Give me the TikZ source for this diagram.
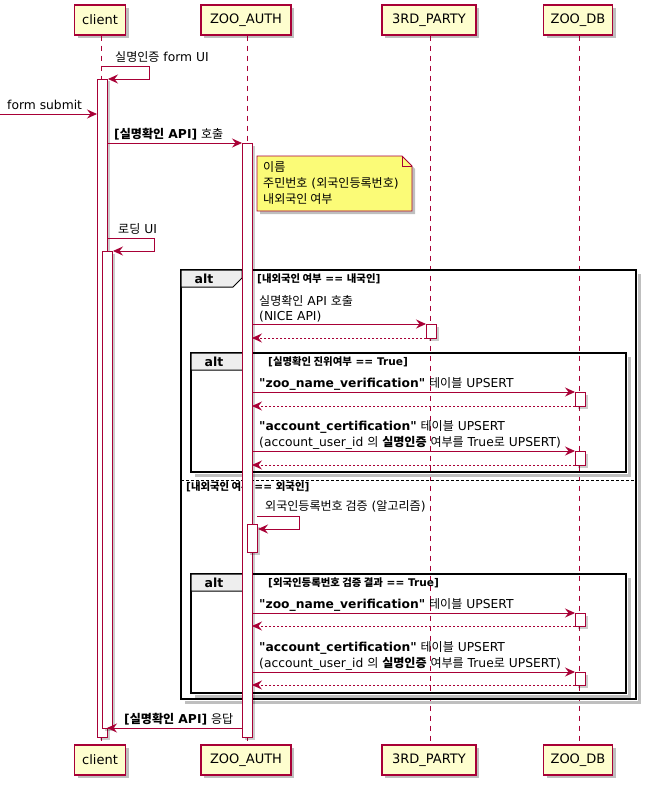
\documentclass[tikz,border=0pt]{standalone}
\usepackage{fontspec}
\setmainfont[Ligatures=TeXOff]{DejaVu Sans}
\newfontfamily\kr[Scale=0.98]{Noto Sans CJK KR}
\usetikzlibrary{arrows.meta,shadows}
\definecolor{pline}{HTML}{A80036}
\definecolor{pfill}{HTML}{FEFECE}
\definecolor{nfill}{HTML}{FBFB77}
\definecolor{tabfill}{HTML}{EEEEEE}
\tikzset{
  part/.style={draw=pline, fill=pfill, line width=1.1pt, minimum height=30pt, inner sep=0pt,
    font=\fontsize{13}{15}\selectfont,
    drop shadow={shadow xshift=3pt, shadow yshift=-3pt, fill=black, opacity=0.25}},
  life/.style={draw=pline, line width=0.8pt, dash pattern=on 5pt off 5pt},
  actbar/.style={draw=pline, fill=white, line width=0.9pt,
    drop shadow={shadow xshift=2.5pt, shadow yshift=-2.5pt, fill=black, opacity=0.2}},
  msg/.style={draw=pline, line width=0.9pt, -{Stealth[length=10pt,width=9pt,inset=3.5pt]}},
  ret/.style={msg, dash pattern=on 2pt off 2pt},
  lbl/.style={anchor=base west, inner sep=0pt, font=\fontsize{12.3}{15}\selectfont},
  cond/.style={anchor=base west, inner sep=0pt, font=\fontsize{10.6}{12}\selectfont\bfseries},
  altframe/.style={draw=black, line width=1.5pt},
  altshadow/.style={draw=black!25, line width=3pt},
  alttab/.style={draw=black, fill=tabfill, line width=1pt},
  alttxt/.style={anchor=base, inner sep=0pt, font=\fontsize{12.5}{15}\selectfont\bfseries},
  notebox/.style={draw=pline, fill=nfill, line width=0.9pt,
    drop shadow={shadow xshift=3pt, shadow yshift=-3pt, fill=black, opacity=0.25}},
}
\begin{document}
\begin{tikzpicture}[x=1pt,y=-1pt]
\useasboundingbox (0,0) rectangle (649,789);
\fill[white] (0,0) rectangle (649,789);

% participants
\node[part, minimum width=51pt] (ct) at (100,20) {client};
\node[part, minimum width=90pt] (at) at (246,20) {ZOO\_AUTH};
\node[part, minimum width=94pt] (tt) at (429,20) {3RD\_PARTY};
\node[part, minimum width=69pt] (dt) at (578,20) {ZOO\_DB};
\node[part, minimum width=51pt] (cb) at (100,760) {client};
\node[part, minimum width=90pt] (ab) at (246,760) {ZOO\_AUTH};
\node[part, minimum width=94pt] (tb) at (429,760) {3RD\_PARTY};
\node[part, minimum width=69pt] (db) at (578,760) {ZOO\_DB};

% lifelines
\draw[life] ([xshift=1pt]ct.south) -- ([xshift=1pt]cb.north);
\draw[life] ([xshift=1pt]at.south) -- ([xshift=1pt]ab.north);
\draw[life] ([xshift=1pt]tt.south) -- ([xshift=1pt]tb.north);
\draw[life] ([xshift=1pt]dt.south) -- ([xshift=1pt]db.north);

% outer alt frame
\draw[altshadow] (639,274) -- (639,702) -- (185,702);
\draw[altframe] (181,270) rectangle (636,699);
\draw[alttab] (181,270) -- (242,270) -- (242,278) -- (233,287) -- (181,287) -- cycle;
\node[alttxt] (alt1) at (204,283) {alt};
\node[cond] (c1) at (257,282) {[{\kr 내외국인 여부} == {\kr 내국인}]};
\draw[black, line width=0.8pt, dash pattern=on 3pt off 2pt] (181,480) -- (636,480);
\node[cond] (c2) at (186,490) {[{\kr 내외국인 여부} == {\kr 외국인}]};

% inner alt 1
\draw[altshadow] (629,357) -- (629,475) -- (195,475);
\draw[altframe] (191,353) rectangle (626,472);
\draw[alttab] (191,353) -- (252,353) -- (252,361) -- (243,370) -- (191,370) -- cycle;
\node[alttxt] (alt2) at (214,366) {alt};
\node[cond] (c3) at (268,365) {[{\kr 실명확인 진위여부} == True]};

% inner alt 2
\draw[altshadow] (629,578) -- (629,696) -- (195,696);
\draw[altframe] (191,574) rectangle (626,693);
\draw[alttab] (191,574) -- (252,574) -- (252,582) -- (243,591) -- (191,591) -- cycle;
\node[alttxt] (alt3) at (214,587) {alt};
\node[cond] (c4) at (268,586) {[{\kr 외국인등록번호 검증 결과} == True]};

% activation bars
\draw[actbar] (97,79) rectangle (107,737);
\draw[actbar] (102,251) rectangle (112,728);
\draw[actbar] (242,143) rectangle (252,737);
\draw[actbar] (247,524) rectangle (257,552);
\draw[actbar] (426,324) rectangle (436,338);
\draw[actbar] (575,392) rectangle (585,406);
\draw[actbar] (575,451) rectangle (585,465);
\draw[actbar] (575,613) rectangle (585,626);
\draw[actbar] (575,672) rectangle (585,685);

% messages
\node[lbl] (m1) at (115,62) {{\kr 실명인증} form UI};
\draw[msg] (101,66) -- (149,66) -- (149,79) -- (108,79);

\coordinate (src) at (0,114);
\node[lbl] (m2) at (7,110) {form submit};
\draw[msg] (src) -- (97,114);

\node[lbl] (m3) at (114,139) {\textbf{[{\kr 실명확인} API]} {\kr 호출}};
\draw[msg] (107,143) -- (242,143);

% note
\draw[notebox] (257,156) -- (402,156) -- (412,166) -- (412,211) -- (257,211) -- cycle;
\draw[pline, line width=0.9pt] (402,156) -- (402,166) -- (412,166);
\node[lbl, align=left, anchor=north west, font=\fontsize{12.3}{16}\selectfont] (note) at (263,161) {{\kr 이름}\\{\kr 주민번호} ({\kr 외국인등록번호})\\{\kr 내외국인 여부}};

\node[lbl] (m4) at (118,233) {{\kr 로딩} UI};
\draw[msg] (107,238) -- (154,238) -- (154,251) -- (113,251);

\node[lbl] (m5a) at (259,305) {{\kr 실명확인} API {\kr 호출}};
\node[lbl] (m5b) at (259,320) {(NICE API)};
\draw[msg] (252,324) -- (426,324);
\draw[ret] (426,338) -- (252,338);

\node[lbl] (m6) at (259,387) {\textbf{"zoo\_name\_verification"} {\kr 테이블} UPSERT};
\draw[msg] (252,392) -- (575,392);
\draw[ret] (575,406) -- (252,406);

\node[lbl] (m7a) at (259,430) {\textbf{"account\_certification"} {\kr 테이블} UPSERT};
\node[lbl] (m7b) at (259,446) {(account\_user\_id {\kr 의} \textbf{\kr 실명인증} {\kr 여부를} True{\kr 로} UPSERT)};
\draw[msg] (252,451) -- (575,451);
\draw[ret] (575,465) -- (252,465);

\node[lbl] (m8) at (265,510) {{\kr 외국인등록번호 검증} ({\kr 알고리즘})};
\draw[msg] (257,516) -- (299,516) -- (299,529) -- (258,529);

\node[lbl] (m9) at (259,608) {\textbf{"zoo\_name\_verification"} {\kr 테이블} UPSERT};
\draw[msg] (252,613) -- (575,613);
\draw[ret] (575,626) -- (252,626);

\node[lbl] (m10a) at (259,651) {\textbf{"account\_certification"} {\kr 테이블} UPSERT};
\node[lbl] (m10b) at (259,667) {(account\_user\_id {\kr 의} \textbf{\kr 실명인증} {\kr 여부를} True{\kr 로} UPSERT)};
\draw[msg] (252,672) -- (575,672);
\draw[ret] (575,685) -- (252,685);

\node[lbl] (m11) at (124,723) {\textbf{[{\kr 실명확인} API]} {\kr 응답}};
\draw[msg] (242,728) -- (107,728);
\end{tikzpicture}
\end{document}
